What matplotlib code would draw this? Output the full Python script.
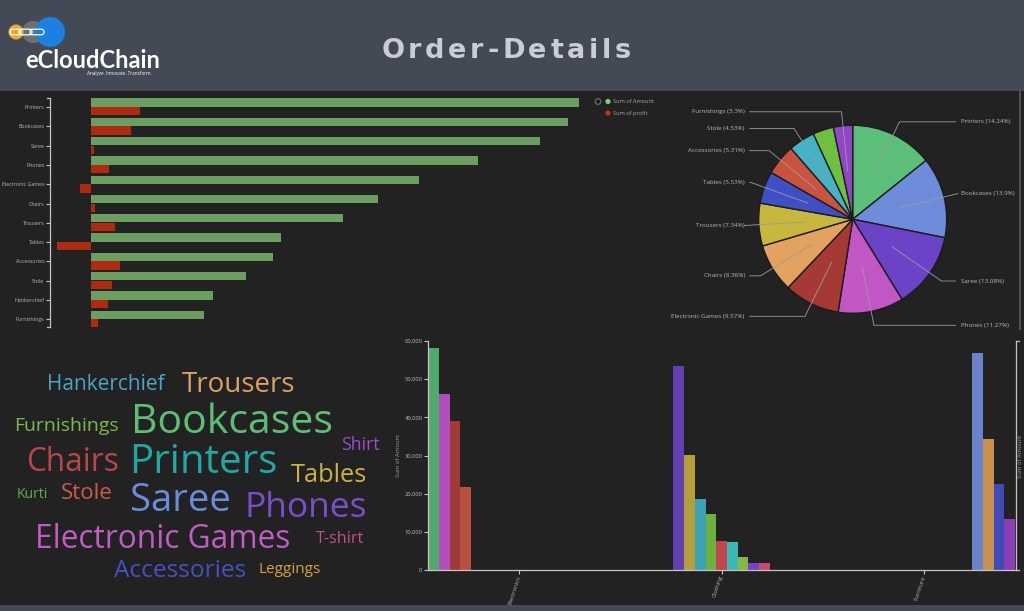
import matplotlib
matplotlib.use('Agg')
import matplotlib.pyplot as plt
import numpy as np
from matplotlib.patches import Rectangle, Circle, FancyBboxPatch
from matplotlib.ticker import FuncFormatter

W, H = 1024, 611

# ---------------- data ----------------
sub_categories = ['Printers', 'Bookcases', 'Saree', 'Phones', 'Electronic Games', 'Chairs',
                  'Trousers', 'Tables', 'Accessories', 'Stole', 'Hankerchief', 'Furnishings']
sum_amount = [58252, 56861, 53511, 46119, 39168, 34222, 30039, 22614, 21728, 18546, 14608, 13484]
sum_profit = [5880, 4810, 320, 2180, -1280, 510, 2830, -4020, 3500, 2505, 2065, 835]
pie_colors = ['#5cbf79', '#6f8cdb', '#6a43c7', '#c157c5', '#a53a35', '#e3a25f',
              '#c7b73d', '#3f4fc6', '#c9533f', '#43b3c7', '#6ec13f', '#9345c7']
pie_hidden_labels = ['Hankerchief']

categories = ['Electronics', 'Clothing', 'Furniture']
electronics_subs = ['Printers', 'Phones', 'Electronic Games', 'Accessories']
electronics_amount = [58252, 46119, 39168, 21728]
electronics_colors = ['#4eab6c', '#b24fba', '#9f3b36', '#b65142']
clothing_subs = ['Saree', 'Trousers', 'Stole', 'Hankerchief', 'T-shirt', 'Shirt', 'Kurti', 'Leggings', 'Skirt']
clothing_amount = [53511, 30039, 18546, 14608, 7500, 7450, 3300, 1950, 1900]
clothing_colors = ['#6140b2', '#b3a03a', '#3aa3b3', '#6cb03e', '#c2464e', '#3ab8b3', '#86b73f', '#7540c4', '#c44a70']
furniture_subs = ['Bookcases', 'Chairs', 'Tables', 'Furnishings']
furniture_amount = [56861, 34222, 22614, 13484]
furniture_colors = ['#6a83ca', '#c9914f', '#3f4bb7', '#8b3fb7']
y_ticks_amount = [0, 10000, 20000, 30000, 40000, 50000, 60000]

cloud_words = ['Hankerchief', 'Trousers', 'Bookcases', 'Furnishings', 'Shirt', 'Chairs', 'Printers',
               'Tables', 'Kurti', 'Stole', 'Saree', 'Phones', 'Electronic Games', 'T-shirt',
               'Accessories', 'Leggings']
cloud_sizes = [15, 20, 29.5, 14, 12.7, 22.7, 29, 18.3, 10, 16, 27.5, 25.5, 22.8, 11.7, 17.6, 11]
cloud_colors = ['#4aa6c2', '#d9a366', '#5cbf73', '#7db84a', '#9a4fc8', '#b8474a', '#1fa9a3',
                '#cdb43d', '#5fb04a', '#d05a4a', '#6b8bdb', '#7a4ec9', '#c25bc4', '#c24f8e',
                '#4651c2', '#d6a23d']
cloud_x = [105.5, 239, 232, 66, 360, 72.5, 203.5, 329, 32.5, 87, 180, 306, 162.5, 340, 180, 290]
cloud_y = [390, 391.7, 433, 430.7, 450, 471, 473.3, 481.7, 498.3, 499.3, 510.7, 516.7, 548.3,
           543.3, 577.3, 572.7]

HEADER = '#434a55'
PANEL = '#222222'
AXIS = '#c4c4c4'
TXT = '#b8b8b8'
FONT = 'Open Sans'

fig = plt.figure(figsize=(W / 100, H / 100), dpi=100, facecolor=PANEL)


def px_axes(x0, y0, x1, y1):
    return fig.add_axes([x0 / W, 1 - y1 / H, (x1 - x0) / W, (y1 - y0) / H])


# ---------------- background / decorations (pixel coordinates) ----------------
bg = px_axes(0, 0, W, H)
bg.set_xlim(0, W)
bg.set_ylim(H, 0)
bg.axis('off')
bg.set_zorder(-5)
bg.add_patch(Rectangle((0, 0), W, 91, color=HEADER, lw=0))
bg.add_patch(Rectangle((0, 91), W, 514, color=PANEL, lw=0))
bg.add_patch(Rectangle((0, 605), W, 6, color=HEADER, lw=0))
bg.add_patch(Rectangle((1019, 91), 2, 239, color='#4d5056', lw=0))

# logo
bg.add_patch(Circle((33, 32), 11, color='#6d7075', lw=0))
bg.add_patch(Circle((50, 32), 15, color='#1c80e0', lw=0))
bg.add_patch(Circle((16, 32), 7.5, color='#f0a532', lw=0))
for lx, lw_ in [(10, 11), (19, 13), (30, 14)]:
    bg.add_patch(FancyBboxPatch((lx, 29.2), lw_, 5.6, boxstyle='round,pad=0,rounding_size=2.6',
                                fill=False, ec='white', lw=0.9))
bg.text(25, 67.5, 'eCloudChain', color='white', fontsize=17, fontweight='bold',
        family='Lato', ha='left', va='baseline')
bg.text(87, 74.5, 'Analyze. Innovate. Transform.', color='white', fontsize=3.3,
        family=FONT, ha='left', va='baseline')

# title with letter spacing
renderer = fig.canvas.get_renderer()
title = 'Order-Details'
tkw = dict(fontsize=19.5, fontweight='bold', family='DejaVu Sans', color='#c9ced6')
widths = []
for ch in title:
    t = bg.text(0, 0, ch, **tkw)
    widths.append(t.get_window_extent(renderer=renderer).width)
    t.remove()
spacing = 3.6
total = sum(widths) + spacing * (len(title) - 1)
xpos = 506 - total / 2
for ch, wch in zip(title, widths):
    bg.text(xpos, 58.3, ch, ha='left', va='baseline', **tkw)
    xpos += wch + spacing

# word cloud
for wd, sz, col, x, y in zip(cloud_words, cloud_sizes, cloud_colors, cloud_x, cloud_y):
    bg.text(x, y, wd, fontsize=sz, color=col, family=FONT, ha='center', va='baseline')

# ---------------- top-left horizontal bar chart ----------------
axb = px_axes(50, 98, 590, 327)
axb.set_facecolor('none')
yy = np.arange(len(sub_categories))
axb.barh(yy - 0.235, sum_amount, height=0.43, color='#6b9f62', lw=0)
axb.barh(yy + 0.215, sum_profit, height=0.43, color='#b02a12', lw=0)
axb.set_xlim(-4890, 59530)
axb.set_ylim(11.4, -0.47)
axb.set_yticks(yy)
axb.set_yticklabels(sub_categories, family=FONT)
axb.set_xticks([])
for s in ['top', 'right', 'bottom']:
    axb.spines[s].set_visible(False)
axb.spines['left'].set_color(AXIS)
axb.spines['left'].set_linewidth(0.9)
axb.tick_params(axis='y', length=3, width=0.8, color=AXIS, labelcolor=TXT, labelsize=3.8, pad=1)
for yf in (0, 1):
    axb.plot([-3 / 540, 0], [yf, yf], transform=axb.transAxes, color=AXIS, lw=0.9, clip_on=False)

# legend
bg.add_patch(Circle((598, 101.5), 2.8, fill=False, ec='#7a7a7a', lw=0.7))
bg.add_patch(Circle((608, 101.5), 2.6, color='#86c873', lw=0))
bg.add_patch(Circle((608, 113), 2.6, color='#c4301a', lw=0))
bg.text(613, 101.5, 'Sum of Amount', color='#a8a8a8', fontsize=4.1, family=FONT, va='center')
bg.text(613, 113, 'Sum of profit', color='#a8a8a8', fontsize=4.1, family=FONT, va='center')

# ---------------- pie chart ----------------
cxp, cyp, R = 852.7, 219.3, 94
axp = px_axes(650, 91, 1019, 329)
axp.set_facecolor('none')
wedges, _ = axp.pie(sum_amount, colors=pie_colors, startangle=90, counterclock=False, radius=R,
                    wedgeprops=dict(edgecolor='#1c1c1c', linewidth=1.0))
axp.set_aspect('auto')
axp.set_xlim(650 - cxp, 1019 - cxp)
axp.set_ylim(-(329 - cyp), cyp - 91)
axp.axis('off')
total_amount = sum(sum_amount)
for wdg, name, val in zip(wedges, sub_categories, sum_amount):
    if name in pie_hidden_labels:
        continue
    th = np.deg2rad((wdg.theta1 + wdg.theta2) / 2)
    c, s = np.cos(th), np.sin(th)
    ix, iy = 0.51 * R * c, 0.51 * R * s
    ex, ey = 1.15 * R * c, 1.15 * R * s
    side = 1 if c >= 0 else -1
    endx = side * max(103, abs(ex))
    axp.plot([ix, ex, endx], [iy, ey, ey], color='#9c9c9c', lw=0.6, clip_on=True)
    pct = round(val / total_amount * 100, 2)
    axp.text(side * 108, ey, f'{name} ({pct:g}%)', color=TXT, fontsize=4.5, family=FONT,
             ha='left' if side > 0 else 'right', va='center', clip_on=True)

# ---------------- bottom grouped bar chart ----------------
axc = px_axes(428.3, 341, 1016, 570)
axc.set_facecolor('none')
groups = [(electronics_subs, electronics_amount, electronics_colors),
          (clothing_subs, clothing_amount, clothing_colors),
          (furniture_subs, furniture_amount, furniture_colors)]
n_all = sum(len(g[0]) for g in groups)
inner_w = 0.9 / n_all
j = 0
for ci, (subs, vals, cols) in enumerate(groups):
    for v, col in zip(vals, cols):
        axc.bar(ci - 0.45 + (j + 0.5) * inner_w, v, width=inner_w, color=col, lw=0)
        j += 1
axc.set_xlim(-0.45, 2.455)
axc.set_ylim(0, 60000)
axc.set_yticks(y_ticks_amount)
axc.yaxis.set_major_formatter(FuncFormatter(lambda v, p: f'{int(v):,}'))
axc.set_xticks(range(len(categories)))
axc.set_xticklabels(categories, rotation=72, ha='right', va='center', rotation_mode='anchor', family=FONT)
for lab in axc.get_yticklabels():
    lab.set_family(FONT)
axc.spines['top'].set_visible(False)
for s in ['left', 'bottom', 'right']:
    axc.spines[s].set_color(AXIS)
    axc.spines[s].set_linewidth(0.9)
axc.tick_params(axis='both', length=3, width=0.8, color=AXIS, labelcolor=TXT, labelsize=4.2, pad=1.2)
for yf in (0, 1):
    axc.plot([1, 1 + 3 / 588], [yf, yf], transform=axc.transAxes, color=AXIS, lw=0.9, clip_on=False)
bg.text(398, 455.5, 'Sum of Amount', rotation=90, color='#9a9a9a', fontsize=4.2, family=FONT,
        ha='center', va='center')
bg.text(1021, 456, 'Sum of Amount', rotation=90, color='#9a9a9a', fontsize=4.2, family=FONT,
        ha='center', va='center')

fig.savefig('out.png', dpi=100, facecolor=PANEL)
